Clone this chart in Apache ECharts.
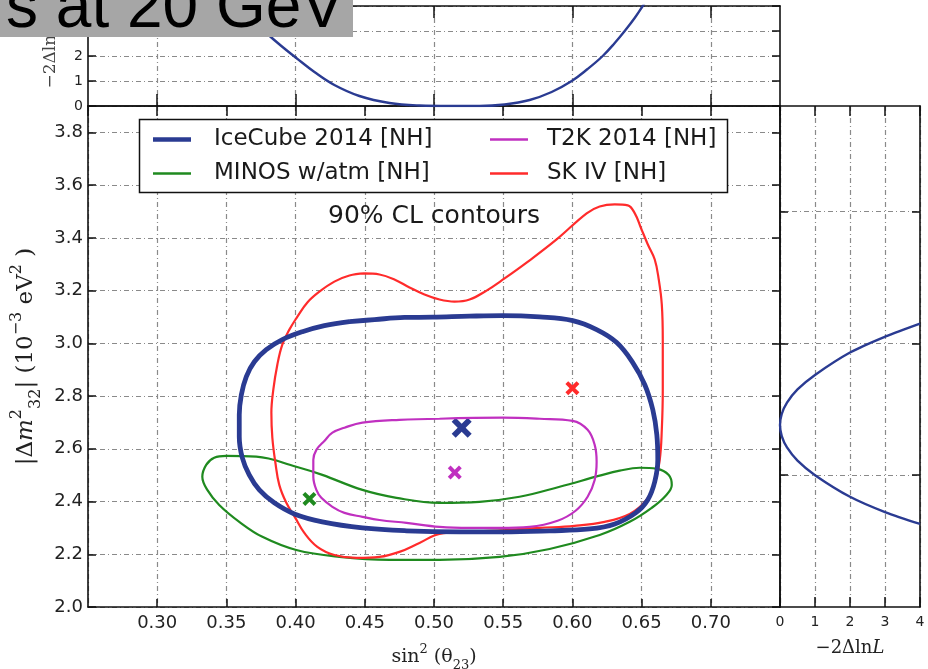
<!DOCTYPE html>
<html>
<head>
<meta charset="utf-8">
<script src="https://cdn.jsdelivr.net/npm/echarts@6/dist/echarts.min.js"></script>
<style>
  html, body { margin: 0; padding: 0; background: #fff; }
  #chart { width: 928px; height: 669px; }
</style>
</head>
<body>
<div id="chart"></div>
<script>
// ---- data -------------------------------------------------------------
// 90% CL contours in (sin^2 theta23, |dm^2_32| [1e-3 eV^2])
const iceCubeContour = [
  [0.4389,3.082],[0.457,3.090],[0.4787,3.098],[0.4989,3.099],[0.5257,3.103],[0.5495,3.105],
  [0.5763,3.100],[0.6002,3.086],[0.6175,3.052],[0.632,3.003],[0.6436,2.927],[0.6523,2.843],
  [0.6581,2.748],[0.661,2.653],[0.6617,2.558],[0.6595,2.475],[0.6544,2.406],[0.6457,2.357],
  [0.6306,2.315],[0.6125,2.296],[0.5835,2.289],[0.5495,2.285],[0.5184,2.285],[0.4801,2.289],
  [0.4483,2.300],[0.4193,2.323],[0.3991,2.353],[0.3846,2.395],[0.3738,2.444],[0.3665,2.501],
  [0.3615,2.566],[0.3593,2.646],[0.3593,2.729],[0.3608,2.805],[0.3644,2.874],[0.3702,2.930],
  [0.3788,2.976],[0.3904,3.014],[0.4049,3.044],[0.4208,3.067],[0.4389,3.082]
];
const t2kContour = [
  [0.504,2.714],[0.5495,2.718],[0.5763,2.714],[0.6002,2.706],[0.611,2.672],[0.6161,2.615],
  [0.6175,2.551],[0.6161,2.482],[0.611,2.418],[0.6023,2.365],[0.5893,2.327],[0.5691,2.304],
  [0.5474,2.300],[0.5257,2.300],[0.504,2.304],[0.4801,2.319],[0.4606,2.330],[0.4483,2.342],
  [0.4353,2.357],[0.4266,2.380],[0.4186,2.414],[0.415,2.444],[0.4128,2.494],[0.4128,2.558],
  [0.415,2.596],[0.4208,2.630],[0.4266,2.661],[0.4353,2.680],[0.4483,2.699],[0.475,2.710],
  [0.504,2.714]
];
const minosContour = [
  [0.3499,2.573],[0.3412,2.566],[0.3354,2.539],[0.3326,2.494],[0.3362,2.444],[0.3448,2.387],
  [0.3593,2.323],[0.376,2.266],[0.4005,2.216],[0.4316,2.190],[0.4678,2.179],[0.504,2.179],
  [0.5474,2.190],[0.5835,2.220],[0.6197,2.273],[0.6414,2.323],[0.6573,2.376],[0.6674,2.422],
  [0.6718,2.463],[0.6696,2.501],[0.661,2.524],[0.6486,2.528],[0.6342,2.517],[0.6197,2.498],
  [0.5908,2.456],[0.5618,2.418],[0.5329,2.399],[0.504,2.395],[0.4729,2.414],[0.4483,2.444],
  [0.4193,2.501],[0.4005,2.532],[0.3716,2.570],[0.3499,2.573]
];
const skContour = [
  [0.4497,3.265],[0.4606,3.261],[0.4714,3.242],[0.4823,3.212],[0.4931,3.185],[0.504,3.166],
  [0.5148,3.158],[0.5257,3.166],[0.538,3.200],[0.551,3.246],[0.5669,3.306],[0.5886,3.394],
  [0.6103,3.493],[0.6197,3.519],[0.6306,3.527],[0.640,3.523],[0.6451,3.493],[0.6494,3.439],
  [0.6545,3.375],[0.6595,3.318],[0.6624,3.242],[0.6646,3.147],[0.6653,3.014],[0.6653,2.824],
  [0.6646,2.672],[0.6631,2.558],[0.6595,2.471],[0.653,2.403],[0.6414,2.353],[0.6233,2.323],
  [0.6016,2.308],[0.5763,2.300],[0.551,2.292],[0.5257,2.285],[0.504,2.277],[0.4895,2.243],
  [0.475,2.209],[0.4606,2.190],[0.4439,2.186],[0.428,2.197],[0.4157,2.228],[0.4063,2.281],
  [0.3998,2.338],[0.3933,2.395],[0.3882,2.463],[0.3854,2.547],[0.3832,2.642],[0.3825,2.737],
  [0.3839,2.824],[0.3868,2.919],[0.3904,2.995],[0.3955,3.052],[0.4013,3.101],[0.4085,3.155],
  [0.4172,3.196],[0.428,3.234],[0.4389,3.257],[0.4497,3.265]
];

// best-fit points
const iceCubeBest = [[0.52, 2.68]];
const t2kBest = [[0.515, 2.51]];
const skBest = [[0.60, 2.83]];
const minosBest = [[0.41, 2.41]];

// IceCube profile likelihoods
const profileSin = [ // [sin^2 theta23, -2 dlnL]
  [0.3702,3.36],[0.3788,2.92],[0.3897,2.40],[0.4005,1.92],[0.4136,1.36],[0.428,0.84],
  [0.4461,0.40],[0.4678,0.12],[0.4895,0.02],[0.5112,0.0],[0.5329,0.0],[0.551,0.06],
  [0.5691,0.24],[0.585,0.56],[0.5995,1.00],[0.611,1.48],[0.6219,2.00],[0.6306,2.52],
  [0.6378,3.00],[0.645,3.52],[0.6508,4.00],[0.6559,4.44]
];
const profileDm = [ // [-2 dlnL, |dm^2_32|]
  [4,2.315],[3,2.36],[2,2.418],[1,2.50],[0.5,2.555],[0.2,2.605],[0.05,2.648],
  [0,2.69],[0.05,2.732],[0.2,2.775],[0.5,2.825],[1,2.88],[2,2.965],[3,3.025],[4,3.075]
];

// axis extents and tick positions
const sinExtent = [0.25, 0.75];
const dmExtent = [2.0, 3.9];
const llhExtent = [0, 4];
const topPanelSinTicks = [0.3, 0.4, 0.5, 0.6, 0.7];
const sidePanelDmTicks = [2.5, 3.0, 3.5];

const seriesNames = ['IceCube 2014 [NH]', 'MINOS w/atm [NH]', 'T2K 2014 [NH]', 'SK IV [NH]'];

// ---- styling ----------------------------------------------------------
const BLUE = '#2a3b92', GREEN = '#1f8a1f', MAGENTA = '#c030c0', RED = '#ff2b2b';
const INK = '#111';
const SANS = 'DejaVu Sans';
const SERIF = 'DejaVu Serif';
const xMarker = 'path://M2,0 L5,3 L8,0 L10,2 L7,5 L10,8 L8,10 L5,7 L2,10 L0,8 L3,5 L0,2 Z';
const thickKey = 'path://M0,0 L38,0 L38,4.5 L0,4.5 Z';
const thinKey = 'path://M0,0 L38,0 L38,2.4 L0,2.4 Z';

const gridLine = { show: true, lineStyle: { color: '#8a8a8a', width: 1.2, type: [5, 3, 1, 3] } };
const frameLine = { show: true, onZero: false, lineStyle: { color: INK, width: 1.6 } };
const tick = (len, extra) => Object.assign({ show: true, inside: true, length: len, lineStyle: { color: INK, width: 1.5 } }, extra || {});
const hidden = { show: false };

function valueAxis(o) {
  return Object.assign({ type: 'value', axisLine: frameLine, splitLine: hidden, axisLabel: hidden }, o);
}

// math-style axis titles (rich text with raised / lowered pieces)
function mathStyle(size, color) {
  const small = Math.round(size * 0.7);
  return {
    fontFamily: SERIF, fontSize: size, color: color, lineHeight: Math.round(size * 1.5),
    rich: {
      it: { fontFamily: SERIF, fontStyle: 'italic', fontSize: size, color: color },
      sup: { fontFamily: SERIF, fontSize: small, color: color, verticalAlign: 'top', lineHeight: Math.round(size * 1.2) },
      sub: { fontFamily: SERIF, fontSize: small, color: color, verticalAlign: 'bottom', lineHeight: Math.round(size * 1.2) }
    }
  };
}

const legendText = { fontFamily: SANS, fontSize: 23, color: '#1a1a1a', lineHeight: 23 };

const chart = echarts.init(document.getElementById('chart'));

chart.setOption({
  animation: false,
  backgroundColor: '#fff',
  grid: [
    { left: 88, top: 6, width: 692, height: 100, outerBoundsMode: 'none' },
    { left: 88, top: 106, width: 692, height: 501, outerBoundsMode: 'none' },
    { left: 780, top: 106, width: 140, height: 501, outerBoundsMode: 'none' }
  ],
  xAxis: [
    valueAxis({ gridIndex: 0, position: 'bottom', min: sinExtent[0], max: sinExtent[1],
      axisTick: tick(12, { customValues: topPanelSinTicks }), splitLine: gridLine }),
    valueAxis({ gridIndex: 0, position: 'top', min: sinExtent[0], max: sinExtent[1],
      axisTick: tick(12, { customValues: topPanelSinTicks }) }),
    valueAxis({ gridIndex: 1, position: 'bottom', min: sinExtent[0], max: sinExtent[1], interval: 0.05,
      axisTick: tick(8), splitLine: gridLine,
      axisLabel: { show: true, margin: 7, fontSize: 18, fontFamily: SANS, color: '#222',
        showMinLabel: false, showMaxLabel: false, formatter: v => v.toFixed(2) },
      name: 'sin{sup|2} (θ{sub|23})', nameLocation: 'middle', nameGap: 36,
      nameTextStyle: mathStyle(19, '#222') }),
    valueAxis({ gridIndex: 1, position: 'top', min: sinExtent[0], max: sinExtent[1], interval: 0.05,
      axisTick: tick(10) }),
    valueAxis({ gridIndex: 2, position: 'bottom', min: llhExtent[0], max: llhExtent[1], interval: 1,
      axisTick: tick(10), splitLine: gridLine,
      axisLabel: { show: true, margin: 8, fontSize: 14, fontFamily: SANS, color: '#222' },
      name: '−2Δln{it|L}', nameLocation: 'middle', nameGap: 28,
      nameTextStyle: mathStyle(18, '#222') }),
    valueAxis({ gridIndex: 2, position: 'top', min: llhExtent[0], max: llhExtent[1], interval: 1,
      axisTick: tick(10) })
  ],
  yAxis: [
    valueAxis({ gridIndex: 0, position: 'left', min: llhExtent[0], max: llhExtent[1], interval: 1,
      axisTick: tick(8), splitLine: gridLine,
      axisLabel: { show: true, margin: 5, fontSize: 14, fontFamily: SANS, color: '#222' },
      name: '−2Δln{it|L}', nameLocation: 'middle', nameGap: 23,
      nameTextStyle: mathStyle(17, '#444') }),
    valueAxis({ gridIndex: 0, position: 'right', min: llhExtent[0], max: llhExtent[1], interval: 1,
      axisTick: tick(8) }),
    valueAxis({ gridIndex: 1, position: 'left', min: dmExtent[0], max: dmExtent[1], interval: 0.2,
      axisTick: tick(8), splitLine: gridLine,
      axisLabel: { show: true, margin: 5, fontSize: 18, fontFamily: SANS, color: '#222',
        showMaxLabel: false, formatter: v => v.toFixed(1) },
      name: '|Δ{it|m}{sup|2}{sub|32}| (10{sup|−3} eV{sup|2} )', nameLocation: 'middle', nameGap: 41,
      nameTextStyle: mathStyle(23, '#222') }),
    valueAxis({ gridIndex: 1, position: 'right', min: dmExtent[0], max: dmExtent[1], interval: 0.2,
      axisTick: tick(8) }),
    valueAxis({ gridIndex: 2, position: 'left', min: dmExtent[0], max: dmExtent[1],
      axisTick: tick(8, { customValues: sidePanelDmTicks }), splitLine: gridLine }),
    valueAxis({ gridIndex: 2, position: 'right', min: dmExtent[0], max: dmExtent[1],
      axisTick: tick(8, { customValues: sidePanelDmTicks }) })
  ],
  legend: [
    { data: [{ name: seriesNames[0], icon: thickKey }, { name: seriesNames[1], icon: thinKey }],
      orient: 'vertical', left: 153, top: 128, padding: 0,
      itemWidth: 38, itemHeight: 14, itemGap: 11, selectedMode: false,
      textStyle: Object.assign({ padding: [0, 0, 0, 18] }, legendText) },
    { data: [{ name: seriesNames[2], icon: thinKey }, { name: seriesNames[3], icon: thinKey }],
      orient: 'vertical', left: 490, top: 128, padding: 0,
      itemWidth: 38, itemHeight: 14, itemGap: 11, selectedMode: false,
      textStyle: Object.assign({ padding: [0, 0, 0, 14] }, legendText) }
  ],
  graphic: [
    { type: 'rect', z: 3, shape: { x: 139.5, y: 119.5, width: 588, height: 73 },
      style: { fill: '#fff', stroke: INK, lineWidth: 1.5 } },
    { type: 'text', z: 3, x: 434, y: 216,
      style: { text: '90% CL contours', fontFamily: SANS, fontSize: 25, fill: '#1a1a1a',
        align: 'center', verticalAlign: 'middle' } },
    { type: 'rect', z: 20, shape: { x: 0, y: 0, width: 353, height: 37 }, style: { fill: '#a6a6a6' } },
    { type: 'text', z: 21, x: 344, y: 41,
      style: { text: 's at 20 GeV', fontFamily: 'Liberation Sans', fontSize: 64, fill: '#000',
        align: 'right', verticalAlign: 'bottom' } }
  ],
  series: [
    { type: 'line', name: 'sin2 profile', xAxisIndex: 0, yAxisIndex: 0, data: profileSin,
      symbol: 'none', smooth: 0.4, lineStyle: { color: BLUE, width: 2.4 }, z: 2 },
    { type: 'line', name: seriesNames[1], xAxisIndex: 2, yAxisIndex: 2, data: minosContour,
      symbol: 'none', smooth: 0.4, color: GREEN, lineStyle: { color: GREEN, width: 2.2 } },
    { type: 'line', name: seriesNames[3], xAxisIndex: 2, yAxisIndex: 2, data: skContour,
      symbol: 'none', smooth: 0.4, color: RED, lineStyle: { color: RED, width: 2.2 } },
    { type: 'line', name: seriesNames[2], xAxisIndex: 2, yAxisIndex: 2, data: t2kContour,
      symbol: 'none', smooth: 0.4, color: MAGENTA, lineStyle: { color: MAGENTA, width: 2.2 } },
    { type: 'line', name: seriesNames[0], xAxisIndex: 2, yAxisIndex: 2, data: iceCubeContour,
      symbol: 'none', smooth: 0.4, color: BLUE, lineStyle: { color: BLUE, width: 4.8 } },
    { type: 'scatter', name: 'MINOS best fit', xAxisIndex: 2, yAxisIndex: 2, data: minosBest,
      symbol: xMarker, symbolSize: 14, itemStyle: { color: GREEN, opacity: 1 } },
    { type: 'scatter', name: 'SK best fit', xAxisIndex: 2, yAxisIndex: 2, data: skBest,
      symbol: xMarker, symbolSize: 14, itemStyle: { color: RED, opacity: 1 } },
    { type: 'scatter', name: 'T2K best fit', xAxisIndex: 2, yAxisIndex: 2, data: t2kBest,
      symbol: xMarker, symbolSize: 14, itemStyle: { color: MAGENTA, opacity: 1 } },
    { type: 'scatter', name: 'IceCube best fit', xAxisIndex: 2, yAxisIndex: 2, data: iceCubeBest,
      symbol: xMarker, symbolSize: 20, itemStyle: { color: BLUE, opacity: 1 } },
    { type: 'line', name: 'dm2 profile', xAxisIndex: 4, yAxisIndex: 4, data: profileDm,
      symbol: 'none', smooth: 0.3, lineStyle: { color: BLUE, width: 2.4 } }
  ]
});
</script>
</body>
</html>
